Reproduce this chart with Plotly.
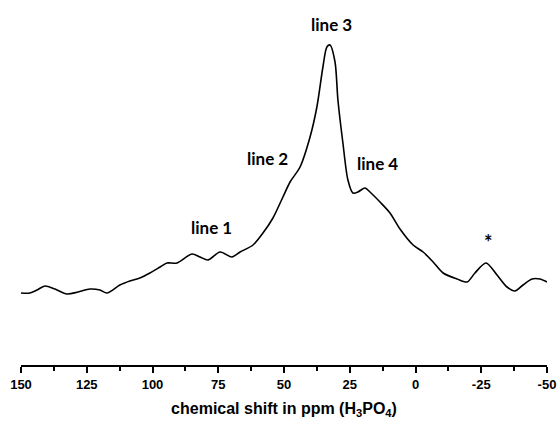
import plotly.graph_objects as go

shift_ppm = [150.0, 146.6, 143.9, 140.9, 137.1, 132.5, 128.3, 123.8, 120.0, 117.3,
             112.4, 108.6, 104.8, 101.0, 97.1, 94.5, 90.7, 85.0, 81.9, 78.9,
             74.3, 69.8, 66.7, 61.8, 58.0, 54.2, 50.4, 47.7, 43.9, 40.1,
             37.5, 35.2, 33.7, 32.5, 30.6, 29.5, 27.6, 25.7, 23.8, 21.9,
             19.2, 17.3, 13.5, 9.7, 5.9, 0.9, -2.9, -6.7, -10.5, -15.8,
             -19.6, -22.6, -26.8, -31.0, -34.8, -37.8, -40.9, -44.3, -47.3, -50.0]
intensity = [72, 72, 75, 79, 76, 71, 73, 76, 75, 72,
             80, 84, 87, 92, 98, 102, 102, 111, 108, 105,
             113, 108, 113, 120, 132, 147, 168, 183, 198, 228,
             258, 298, 318, 320, 303, 265, 222, 185, 172, 173,
             177, 173, 163, 152, 136, 120, 113, 103, 92, 86,
             83, 92, 102, 90, 78, 74, 80, 86, 86, 83]

label_text = ["line 1", "line 2", "line 3", "line 4", "*"]
label_x = [77.4, 56.1, 32.1, 14.3, -27.9]
label_y = [138, 207, 341, 202, 123]
label_size = [17, 17, 17, 17, 20]

tick_vals = [150, 125, 100, 75, 50, 25, 0, -25, -50]
tick_text = ["150", "125", "100", "75", "50", "25", "0", "-25", "-50"]

fig = go.Figure()
fig.add_trace(go.Scatter(x=shift_ppm, y=intensity, mode="lines",
                         line=dict(color="black", width=1.6, shape="spline", smoothing=0.8),
                         showlegend=False, hoverinfo="skip"))

for t, x, y, s in zip(label_text, label_x, label_y, label_size):
    fig.add_annotation(x=x, y=y, text=t, showarrow=False,
                       font=dict(family="Lato", size=s, color="black", weight="bold"),
                       xanchor="center", yanchor="middle")

fig.update_layout(
    width=559, height=422,
    margin=dict(l=21, r=12, t=0, b=57),
    paper_bgcolor="white", plot_bgcolor="white",
    xaxis=dict(range=[150, -50], tickvals=tick_vals, ticktext=tick_text,
               showgrid=False, zeroline=False, showline=True, linecolor="black", linewidth=2,
               ticks="outside", ticklen=6, tickwidth=2, tickcolor="black",
               tickfont=dict(family="Liberation Sans", size=13, color="black", weight="bold"),
               minor=dict(dtick=12.5, tick0=0, ticks="outside", ticklen=4, tickwidth=1.5, tickcolor="black", showgrid=False),
               title=dict(text="chemical shift in ppm (H<sub>3</sub>PO<sub>4</sub>)",
                          font=dict(family="Liberation Sans", size=16, color="black", weight="bold"),
                          standoff=12)),
    yaxis=dict(range=[0, 365], visible=False, showgrid=False, zeroline=False),
)

fig.write_html("out.html")
